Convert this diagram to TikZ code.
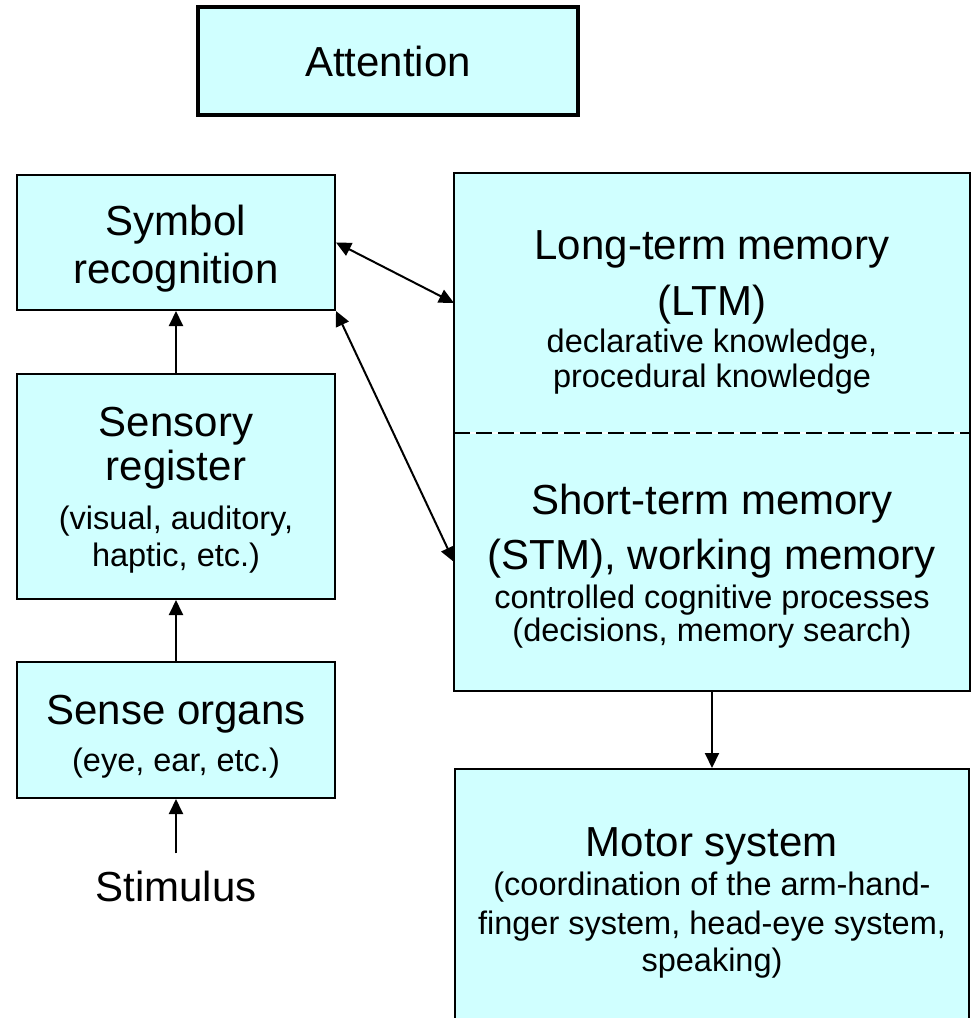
\documentclass[tikz,border=0pt]{standalone}
\usepackage{fontspec}
\setmainfont{Liberation Sans}
\usetikzlibrary{arrows.meta,positioning}
\definecolor{boxcyan}{RGB}{208,255,255}
\newcommand{\bigtxt}{\fontsize{42}{48}\selectfont}
\newcommand{\smalltxt}{\fontsize{32.5}{37}\selectfont}
\newcommand{\topgap}[1]{\rule{0pt}{#1}} % taller first line, text sits lower

\begin{document}
\begin{tikzpicture}[
    x=1pt, y=-1pt,          % one unit = one pixel, y going down
    box/.style={draw, line width=2pt, fill=boxcyan, align=center,
      inner sep=0pt, font=\bigtxt},
    link/.style={line width=2pt, -{Triangle[length=15pt,width=14pt]}},
    twoway/.style={line width=2pt,
      {Triangle[length=15pt,width=14pt]}-{Triangle[length=15pt,width=14pt]}}
  ]
  \useasboundingbox (0,0) rectangle (973,1018);
  \clip (0,0) rectangle (973,1018);

  % top box
  \node[box, line width=3.5pt, minimum width=380pt, minimum height=108pt]
    (attn) at (388,61) {Attention};

  % left column
  \node[box, minimum width=318pt, minimum height=135pt]
    (sym) at (176,242.5) {\topgap{43pt}Symbol\\recognition};
  \node[box, minimum width=318pt, minimum height=225pt, below=62pt of sym]
    (sens) {\topgap{37pt}Sensory\\[-4pt]register\\[1pt]{\smalltxt (visual, auditory,}\\[-11pt]{\smalltxt haptic, etc.)}};
  \node[box, minimum width=318pt, minimum height=136pt, below=61pt of sens]
    (organs) {\topgap{43pt}Sense organs\\[-1pt]{\smalltxt (eye, ear, etc.)}};
  \node[font=\bigtxt, inner sep=0pt, inner ysep=17pt, anchor=base]
    (stim) at (176,901) {Stimulus};

  % right column
  \node[box, draw=none, minimum width=514pt, minimum height=258pt]
    (ltm) at (712,303) {\topgap{47pt}Long-term memory\\[8pt](LTM)\\[-11pt]{\smalltxt declarative knowledge,}\\[-13pt]{\smalltxt procedural knowledge}};
  \node[box, draw=none, minimum width=514pt, minimum height=256pt, below=0pt of ltm]
    (stm) {\topgap{39pt}Short-term memory\\[7pt](STM), working memory\\[-9pt]{\smalltxt controlled cognitive processes}\\[-15pt]{\smalltxt (decisions, memory search)}};
  \draw[line width=2pt] (ltm.north west) rectangle (stm.south east);
  \draw[line width=2pt, dash pattern=on 16pt off 6pt] (ltm.south west) -- (ltm.south east);
  \node[box, minimum width=514pt, minimum height=267pt, below=77pt of stm]
    (motor) {Motor system\\[-9pt]{\smalltxt (coordination of the arm-hand-}\\[-9pt]{\smalltxt finger system, head-eye system,}\\[-11pt]{\smalltxt speaking)}};

  % connectors
  \draw[link] (sens) -- (sym);
  \draw[link] (organs) -- (sens);
  \draw[link] (stim) -- (organs);
  \draw[link] (stm) -- (motor);
  \draw[twoway] (sym.east) -- (ltm.west);
  \draw[twoway] (sym.south east) -- (stm.west);
\end{tikzpicture}
\end{document}
